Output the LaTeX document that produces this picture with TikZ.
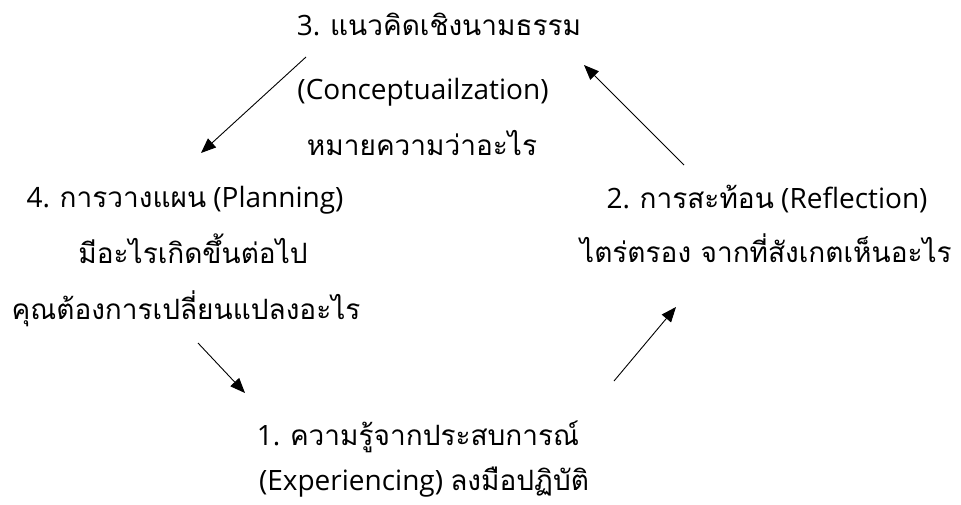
\documentclass[tikz,border=0pt]{standalone}
\usepackage{fontspec}
\setmainfont[Script=Thai]{Loma}
\newfontfamily\latf{Open Sans}
\newcommand\lat[1]{{\latf #1}}
\usetikzlibrary{arrows.meta}
\begin{document}
\begin{tikzpicture}[x=1pt,y=-1pt,
  lbl/.style={inner sep=0pt,anchor=base,font=\fontsize{28}{32}\selectfont},
  arr/.style={line width=0.9pt,-{Triangle[length=15pt,width=12pt]}}]
\useasboundingbox[fill=white] (0,0) rectangle (961,504);
% stage 3
\node[lbl] (t3a) at (439,35) {\lat{3. }แนวคิดเชิงนามธรรม};
\node[lbl] (t3b) at (423,99) {\lat{(Conceptuailzation)}};
\node[lbl] (t3c) at (422,155) {หมายความว่าอะไร};
% stage 4
\node[lbl] (t4a) at (185,207) {\lat{4. }การวางแผน\lat{ (Planning)}};
\node[lbl] (t4b) at (193,263) {มีอะไรเกิดขึ้นต่อไป};
\node[lbl] (t4c) at (186,319) {คุณต้องการเปลี่ยนแปลงอะไร};
% stage 2
\node[lbl] (t2a) at (767,208) {\lat{2. }การสะท้อน\lat{ (Reflection)}};
\node[lbl] (t2b) at (766,262) {ไตร่ตรอง จากที่สังเกตเห็นอะไร};
% stage 1
\node[lbl] (t1a) at (418,445) {\lat{1. }ความรู้จากประสบการณ์};
\node[lbl] (t1b) at (424,490) {\lat{(Experiencing) }ลงมือปฏิบัติ};
% arrow ends
\coordinate (a34s) at (306,57);
\coordinate (a34e) at (201,153);
\coordinate (a41s) at (198,343);
\coordinate (a41e) at (245,393);
\coordinate (a12s) at (614,381);
\coordinate (a12e) at (676,307);
\coordinate (a23s) at (684,165);
\coordinate (a23e) at (584,65);
\draw[arr] (a34s) -- (a34e);
\draw[arr] (a41s) -- (a41e);
\draw[arr] (a12s) -- (a12e);
\draw[arr] (a23s) -- (a23e);
\end{tikzpicture}
\end{document}
